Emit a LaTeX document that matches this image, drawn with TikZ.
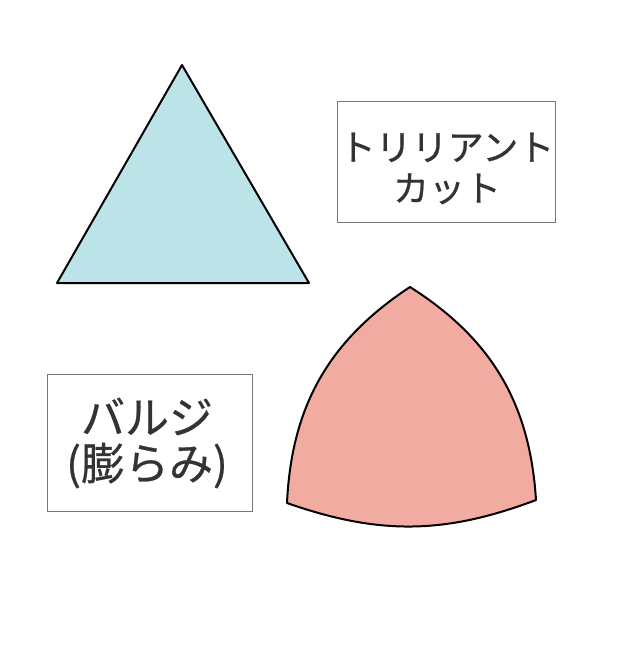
\documentclass[tikz,border=0pt]{standalone}
\usepackage{fontspec}
\newfontfamily\jpfont[FakeBold=0.6]{Noto Sans CJK JP}
\definecolor{gemblue}{RGB}{188,227,232}
\definecolor{gemred}{RGB}{242,171,160}
\definecolor{boxgray}{RGB}{120,120,120}
\definecolor{textgray}{RGB}{51,51,51}
\begin{document}
\begin{tikzpicture}
        [x=1pt, y=-1pt,
        label box/.style={draw=boxgray, line width=0.9pt, rectangle, inner sep=0pt},
        label text/.style={text=textgray, align=center, inner sep=0pt},
        gem/.style={draw=black, line width=2pt, line join=round}]
        \useasboundingbox (0,0) rectangle (622,661);
        \node[label box, minimum width=218, minimum height=121] (trillbox) at (446,161.5) {};
        \node[label text, font=\jpfont\fontsize{36}{41}\selectfont] (trilltext)
                at (447,168.5) {トリリアント\\カット};
        \node[label box, minimum width=205, minimum height=137] (bulgebox) at (149.5,442.5) {};
        \node[label text, font=\jpfont\fontsize{44}{46}\selectfont] (bulgetext)
                at (147,443) {バルジ\\(膨らみ)};
        \coordinate (t1) at (182,65);
        \coordinate (t2) at (57,283);
        \coordinate (t3) at (309,283);
        \draw[gem, fill=gemblue] (t1) -- (t2) -- (t3) -- cycle;
        \coordinate (b1) at (410,287);
        \coordinate (b2) at (287,503);
        \coordinate (b3) at (536,500);
        \draw[gem, fill=gemred] (b1) to[bend right=27] (b2)
                to[bend right=20] (b3) to[bend right=27] cycle;
\end{tikzpicture}
\end{document}
